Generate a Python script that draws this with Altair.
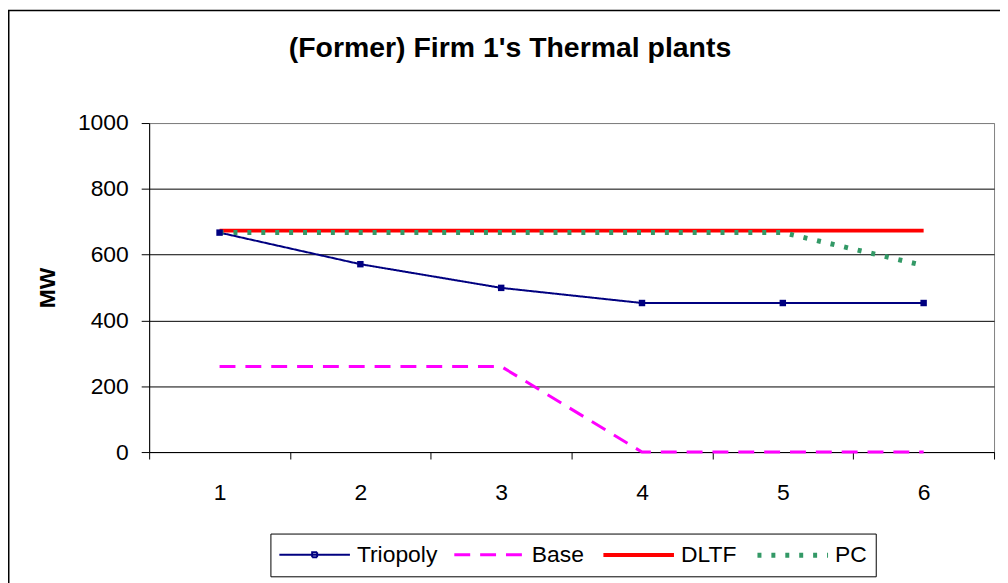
import altair as alt
import pandas as pd

categories = ["1", "2", "3", "4", "5", "6"]
series_names = ["Triopoly", "Base", "DLTF", "PC"]
triopoly = [667, 571, 499, 453, 453, 453]
base = [260, 260, 260, 0, 0, 0]
dltf = [673, 673, 673, 673, 673, 673]
pc = [667, 667, 667, 667, 667, 567]
y_ticks = [0, 200, 400, 600, 800, 1000]

colors = ["#000080", "#FF00FF", "#FF0000", "#339966"]
dashes = [[1, 0], [16, 10], [1, 0], [4, 10]]
widths = [2, 5, 4, 3.5]

rows = []
for name, vals in zip(series_names, [triopoly, base, dltf, pc]):
    for c, v in zip(categories, vals):
        rows.append({"x": c, "series": name, "value": v})
df = pd.DataFrame(rows)

FONT = "Liberation Sans"
W, H = 850, 331
PL, PT = 142, 114
TOTAL_H = 575

LINE_PATH = "M-3.55,0H3.55"
MARKER_PATH = "M-3.55,0H3.55M-0.25,-0.25H0.25V0.25H-0.25Z"

x_enc = alt.X("x:N", sort=categories, title=None,
              scale=alt.Scale(paddingInner=0, paddingOuter=0),
              axis=alt.Axis(labelAngle=0, tickBand="extent", tickSize=7,
                            labelPadding=23, domainColor="black",
                            tickColor="black", grid=False))
y_enc = alt.Y("value:Q", title="MW",
              scale=alt.Scale(domain=[0, 1000], nice=False),
              axis=alt.Axis(values=y_ticks, format="d", tickSize=8, labelPadding=13,
                            domainColor="black", tickColor="black",
                            gridColor={"condition": {"test": "datum.value == 1000", "value": "#808080"}, "value": "black"},
                            titleFontWeight="bold", titleFontSize=23,
                            titleAngle=-90, titleX=-102, titleY=H / 2,
                            titleAlign="center", titleBaseline="middle"))

lines = alt.Chart(df).mark_line(clip=False).encode(
    x=x_enc,
    y=y_enc,
    color=alt.Color("series:N", sort=series_names, title=None,
                    scale=alt.Scale(domain=series_names, range=colors)),
    strokeDash=alt.StrokeDash("series:N", sort=series_names, title=None,
                              scale=alt.Scale(domain=series_names, range=dashes)),
    strokeWidth=alt.StrokeWidth("series:N", sort=series_names, title=None,
                                scale=alt.Scale(domain=series_names, range=widths)),
    order=alt.Order("x:N"),
)

points = alt.Chart(df).transform_filter(alt.datum.series == "Triopoly").mark_point(
    shape="square", filled=True, size=42, color="#000080", opacity=1
).encode(x=alt.X("x:N", sort=categories), y="value:Q")

border = alt.Chart(pd.DataFrame({"a": [0]})).mark_rect(
    fill=None, stroke="black", strokeWidth=1.5, clip=False
).encode(
    x=alt.value(-PL + 0.75), x2=alt.value(W + 20),
    y=alt.value(-PT + 0.75), y2=alt.value(H + 200),
)

chart = alt.layer(lines, points, border).properties(
    width=W, height=H,
    autosize=alt.AutoSizeParams(type="none"),
    padding={"left": PL, "top": PT, "right": 6, "bottom": TOTAL_H - PT - H},
    title=alt.TitleParams("(Former) Firm 1's Thermal plants", font=FONT,
                          fontSize=28.6, fontWeight="bold", color="black",
                          anchor="middle", offset=-53, dx=-62),
).configure_view(
    stroke="#808080", strokeWidth=1
).configure_axis(
    labelFont=FONT, labelFontSize=23, labelColor="black",
    titleFont=FONT, titleColor="black", gridWidth=1,
).configure_legend(
    orient="none", legendX=122, legendY=413, direction="horizontal",
    columns=4, strokeColor="black", padding=9,
    symbolType={"expr": "datum.value == 'Triopoly' ? '%s' : '%s'" % (MARKER_PATH, LINE_PATH)},
    symbolSize=400,
    labelFont=FONT, labelFontSize=23, labelColor="black",
    columnPadding=11, labelOffset=30, symbolOffset=23, symbolOpacity=1,
)

chart.save("out.html", embed_options={"renderer": "svg", "actions": False})
